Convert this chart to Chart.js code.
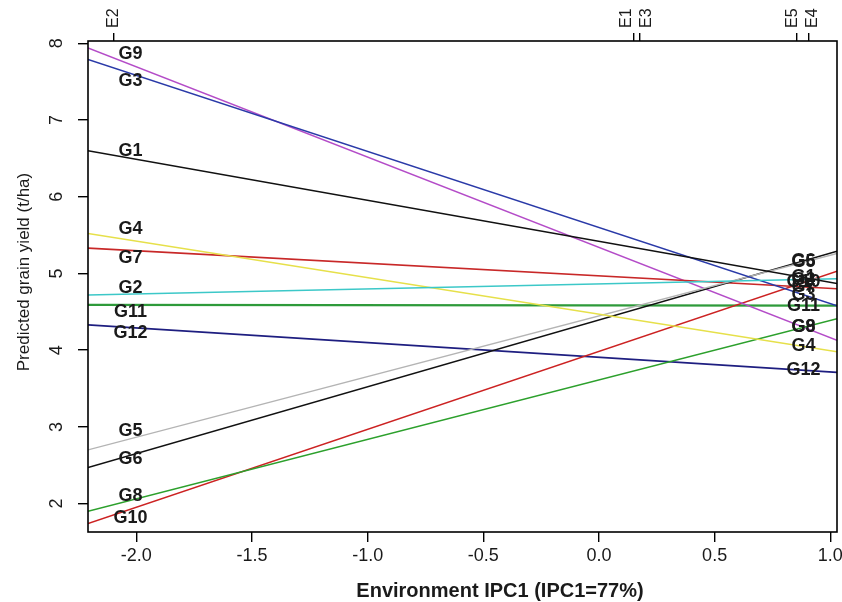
<!DOCTYPE html>
<html><head><meta charset="utf-8">
<script src="https://cdn.jsdelivr.net/npm/chart.js@4"></script>
<style>html,body{margin:0;padding:0;background:#fff;overflow:hidden}#wrap{width:842px;height:602px;position:relative}</style>
</head><body><div id="wrap"><canvas id="c" width="842" height="602"></canvas></div>
<script>
// ---- data ----
const genotypes = ['G1','G2','G3','G4','G5','G6','G7','G8','G9','G10','G11','G12'];
const xRange = [-2.209, 1.029];             // environment IPC1 extent of the plot
const yAtLeft  = [6.60, 4.72, 7.79, 5.52, 2.70, 2.47, 5.33, 1.90, 7.94, 1.74, 4.59, 4.33];
const yAtRight = [4.87, 4.93, 4.58, 3.98, 5.26, 5.29, 4.80, 4.41, 4.13, 5.03, 4.58, 3.71];
const leftLabelY = [6.60, 4.81, 7.51, 5.58, 2.95, 2.575, 5.20, 2.095, 7.86, 1.817, 4.50, 4.22];
const envNames  = ['E2', 'E1', 'E3', 'E5', 'E4'];
const envScores = [-2.10, 0.151, 0.176, 0.853, 0.908];
const xTickValues = [-2.0, -1.5, -1.0, -0.5, 0.0, 0.5, 1.0];
const yTickValues = [2, 3, 4, 5, 6, 7, 8];
const yRange = [1.63, 8.03];
const leftLabelX = -2.025;
const rightLabelX = 0.884;

// ---- styles ----
const lineColors = ['#111111','#3cc8c8','#2a3aa8','#e6e04a','#b4b4b4','#111111',
                    '#c82828','#2ca02c','#b44cc8','#cc2222','#2e9a3a','#1e1e80'];
const lineWidths = [1.5,1.5,1.5,1.5,1.4,1.6,1.6,1.5,1.5,1.5,2.2,1.6];
const FONT = "'Liberation Sans', Arial, sans-serif";

const datasets = genotypes.map((g, i) => ({
  label: g,
  data: [{x: xRange[0], y: yAtLeft[i]}, {x: xRange[1], y: yAtRight[i]}],
  borderColor: lineColors[i],
  borderWidth: lineWidths[i],
  pointRadius: 0,
  tension: 0,
  fill: false
}));

const noPad = s => { s.paddingLeft = 0; s.paddingRight = 0; s.paddingTop = 0; s.paddingBottom = 0; };

const decor = {
  id: 'decor',
  afterDatasetsDraw(chart) {
    const ctx = chart.ctx, a = chart.chartArea;
    const xs = chart.scales.x, ys = chart.scales.y;
    ctx.save();
    // box
    ctx.strokeStyle = '#000'; ctx.lineWidth = 1.6;
    ctx.strokeRect(a.left, a.top, a.right - a.left, a.bottom - a.top);

    // genotype labels
    ctx.fillStyle = '#1a1a1a';
    ctx.font = 'bold 18px ' + FONT;
    ctx.textAlign = 'center'; ctx.textBaseline = 'middle';
    genotypes.forEach((g, i) => {
      ctx.fillText(g, xs.getPixelForValue(leftLabelX), ys.getPixelForValue(leftLabelY[i]));
      const f = (rightLabelX - xRange[0]) / (xRange[1] - xRange[0]);
      const yv = yAtLeft[i] + (yAtRight[i] - yAtLeft[i]) * f;
      ctx.fillText(g, xs.getPixelForValue(rightLabelX), ys.getPixelForValue(yv));
    });

    // y tick labels (rotated)
    ctx.font = '18px ' + FONT;
    ctx.fillStyle = '#1a1a1a';
    yTickValues.forEach(v => {
      ctx.save();
      ctx.translate(57, ys.getPixelForValue(v));
      ctx.rotate(-Math.PI / 2);
      ctx.textAlign = 'center'; ctx.textBaseline = 'middle';
      ctx.fillText(String(v), 0, 0);
      ctx.restore();
    });

    // y title
    ctx.save();
    ctx.font = '17px ' + FONT;
    ctx.translate(24, 272);
    ctx.rotate(-Math.PI / 2);
    ctx.textAlign = 'center'; ctx.textBaseline = 'middle';
    ctx.fillText('Predicted grain yield (t/ha)', 0, 0);
    ctx.restore();

    // x title
    ctx.font = 'bold 20px ' + FONT;
    ctx.textAlign = 'center'; ctx.textBaseline = 'middle';
    ctx.fillText('Environment IPC1 (IPC1=77%)', 500, 591);

    // environment labels on the top axis, spread apart where they crowd
    const xt = chart.scales.x2;
    const px = envScores.map(v => xt.getPixelForValue(v));
    const order = px.map((p, i) => i).sort((p, q) => px[p] - px[q]);
    const pos = px.slice();
    const gap = 20;
    const groups = [];
    order.forEach(i => {
      const last = groups[groups.length - 1];
      if (last && px[i] - px[last[last.length - 1]] < gap) last.push(i); else groups.push([i]);
    });
    groups.forEach(gr => {
      const mean = gr.reduce((s, i) => s + px[i], 0) / gr.length;
      gr.forEach((i, k) => { pos[i] = mean + (k - (gr.length - 1) / 2) * gap; });
    });
    ctx.font = '16px ' + FONT;
    envNames.forEach((n, i) => {
      ctx.save();
      ctx.translate(pos[i], 28);
      ctx.rotate(-Math.PI / 2);
      ctx.textAlign = 'left'; ctx.textBaseline = 'middle';
      ctx.fillText(n, 0, 0);
      ctx.restore();
    });
    ctx.restore();
  }
};

new Chart(document.getElementById('c'), {
  type: 'line',
  data: { datasets },
  options: {
    responsive: false,
    animation: false,
    devicePixelRatio: 1,
    layout: { padding: { left: 0, right: 5, top: 0, bottom: 0 } },
    plugins: { legend: { display: false }, tooltip: { enabled: false } },
    scales: {
      x: {
        type: 'linear', position: 'bottom', min: xRange[0], max: xRange[1],
        afterBuildTicks: s => { s.ticks = xTickValues.map(v => ({ value: v })); },
        afterFit: s => { s.height = 70; noPad(s); },
        ticks: { autoSkip: false, maxRotation: 0, minRotation: 0, padding: 3, color: '#1a1a1a',
                 font: { family: FONT, size: 18 }, callback: v => Number(v).toFixed(1) },
        grid: { drawOnChartArea: false, drawTicks: true, tickLength: 10, color: '#000', lineWidth: 1.4 },
        border: { display: false }
      },
      x2: {
        type: 'linear', position: 'top', min: xRange[0], max: xRange[1],
        afterBuildTicks: s => { s.ticks = envScores.map(v => ({ value: v })); },
        afterFit: s => { s.height = 41; noPad(s); },
        ticks: { display: false },
        grid: { drawOnChartArea: false, drawTicks: true, tickLength: 8, color: '#000', lineWidth: 1.4 },
        border: { display: false }
      },
      y: {
        type: 'linear', position: 'left', min: yRange[0], max: yRange[1],
        afterBuildTicks: s => { s.ticks = yTickValues.map(v => ({ value: v })); },
        afterFit: s => { s.width = 88; noPad(s); },
        ticks: { display: false },
        grid: { drawOnChartArea: false, drawTicks: true, tickLength: 10, color: '#000', lineWidth: 1.4 },
        border: { display: false }
      }
    }
  },
  plugins: [decor]
});
</script></body></html>
